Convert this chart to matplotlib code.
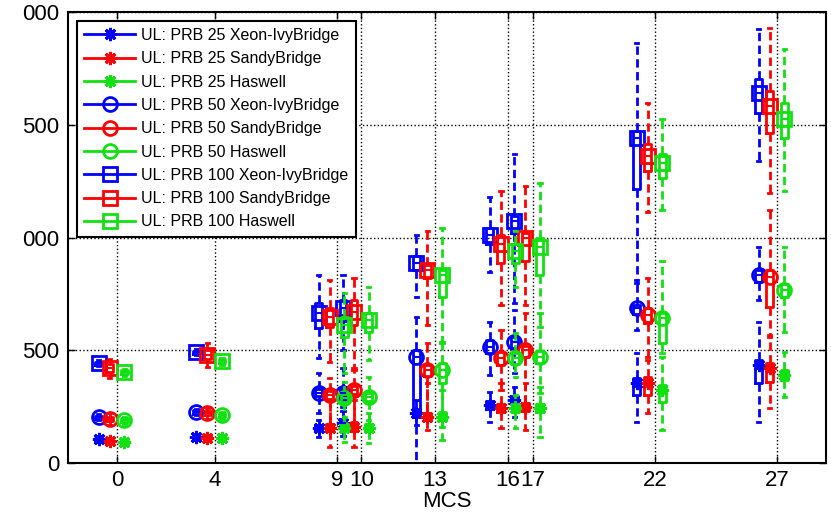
import matplotlib
matplotlib.use('Agg')
import matplotlib.pyplot as plt
from matplotlib.lines import Line2D
import numpy as np

plt.rcParams['font.family'] = ['Liberation Sans', 'DejaVu Sans']

# x positions (MCS index) and axis labels
mcs = [0, 4, 9, 10, 13, 16, 17, 22, 27]
mcs_labels = ["0", "4", "9", "10", "13", "16", "17", "22", "27"]
ytick_vals = [0, 500, 1000, 1500, 2000]
# leading digit is cut off in the source picture
ytick_labels = ["0", "500", "000", "500", "000"]

cpus = ["Xeon-IvyBridge", "SandyBridge", "Haswell"]
prbs = [25, 50, 100]

# each row: IvyBridge, SandyBridge, Haswell ; columns follow mcs
med_25 = [[106, 115, 155, 177, 221, 257, 279, 354, 434],
          [97, 113, 155, 159, 204, 243, 248, 354, 420],
          [93, 111, 155, 155, 204, 243, 243, 323, 389]]
q1_25 = [[100, 109, 145, 160, 205, 240, 262, 301, 354],
         [90, 106, 140, 140, 190, 225, 230, 301, 358],
         [86, 104, 140, 140, 190, 228, 228, 270, 367]]
q3_25 = [[112, 121, 170, 195, 240, 275, 295, 376, 456],
         [104, 120, 175, 180, 220, 262, 268, 381, 442],
         [100, 118, 170, 172, 225, 260, 262, 345, 411]]
lo_25 = [[95, 104, 115, 120, 170, 181, 204, 181, 181],
         [85, 100, 71, 71, 146, 155, 146, 221, 243],
         [82, 98, 93, 88, 102, 155, 115, 146, 292]]
hi_25 = [[117, 126, 190, 230, 280, 314, 336, 487, 624],
         [110, 126, 279, 279, 354, 354, 354, 456, 558],
         [104, 124, 204, 221, 323, 301, 336, 469, 491]]

med_50 = [[204, 226, 310, 310, 469, 513, 535, 686, 832],
          [195, 221, 301, 323, 411, 465, 500, 655, 823],
          [190, 212, 288, 292, 411, 465, 469, 642, 766]]
q1_50 = [[197, 219, 295, 295, 221, 487, 510, 660, 801],
         [185, 211, 285, 305, 384, 434, 470, 619, 690],
         [182, 204, 270, 275, 354, 440, 445, 531, 735]]
q3_50 = [[210, 233, 330, 330, 500, 544, 560, 700, 854],
         [205, 231, 320, 340, 433, 491, 520, 686, 854],
         [198, 220, 305, 310, 442, 490, 495, 664, 796]]
lo_50 = [[190, 212, 221, 250, 0, 389, 400, 588, 721],
         [170, 196, 159, 177, 190, 323, 235, 469, 566],
         [175, 197, 177, 190, 159, 381, 310, 487, 580]]
hi_50 = [[218, 240, 398, 420, 646, 624, 680, 810, 956],
         [220, 246, 376, 411, 531, 589, 664, 819, 1120],
         [205, 227, 358, 381, 535, 575, 664, 898, 956]]

med_100 = [[442, 491, 664, 686, 885, 1009, 1075, 1443, 1642],
           [420, 478, 646, 668, 854, 973, 1000, 1363, 1584],
           [403, 451, 611, 633, 832, 942, 956, 1332, 1527]]
q1_100 = [[435, 484, 597, 630, 854, 973, 1022, 1217, 1553],
          [405, 460, 602, 610, 819, 889, 898, 1296, 1465],
          [395, 443, 557, 580, 735, 889, 832, 1266, 1443]]
q3_100 = [[450, 498, 708, 722, 920, 1044, 1097, 1474, 1704],
          [440, 500, 686, 722, 876, 1009, 1022, 1416, 1650],
          [412, 460, 646, 664, 854, 973, 996, 1372, 1597]]
lo_100 = [[428, 477, 465, 500, 735, 845, 708, 800, 1341],
          [376, 425, 447, 420, 611, 699, 699, 1111, 1199],
          [388, 436, 398, 456, 531, 779, 602, 1120, 1208]]
hi_100 = [[456, 505, 832, 832, 1009, 1181, 1372, 1863, 1925],
          [460, 531, 810, 819, 1031, 1208, 1230, 1597, 1929],
          [418, 466, 752, 779, 1044, 1031, 1243, 1527, 1836]]

data = {
    25: (med_25, q1_25, q3_25, lo_25, hi_25),
    50: (med_50, q1_50, q3_50, lo_50, hi_50),
    100: (med_100, q1_100, q3_100, lo_100, hi_100),
}

colors = ["#0000ff", "#ff0000", "#11e011"]
offsets = [-0.75, -0.3, 0.3]
markers = {25: (8, 2, 0), 50: "o", 100: "s"}
msizes = {25: 9.5, 50: 10, 100: 9.5}
lw = 2.0

fig = plt.figure(figsize=(8.31, 5.2), dpi=100)
ax = fig.add_axes([0.0818, 0.1096, 0.9122, 0.8673])

handles = []
for prb in prbs:
    med, q1, q3, lo, hi = data[prb]
    for c, cpu in enumerate(cpus):
        col = colors[c]
        pos = np.array(mcs) + offsets[c]
        stats = [dict(med=med[c][k], q1=q1[c][k], q3=q3[c][k],
                      whislo=lo[c][k], whishi=hi[c][k], fliers=[])
                 for k in range(len(mcs))]
        ax.bxp(stats, positions=pos, widths=0.28, showfliers=False,
               manage_ticks=False,
               boxprops=dict(color=col, lw=lw),
               whiskerprops=dict(color=col, lw=lw, ls=(0, (3, 1.6))),
               capprops=dict(color=col, lw=lw),
               medianprops=dict(color=col, lw=1.5))
        ax.plot(pos, med[c], ls='none', marker=markers[prb], ms=msizes[prb],
                mec=col, mfc='none', mew=lw)
        handles.append(Line2D([0], [0], color=col, lw=lw, marker=markers[prb],
                              ms=msizes[prb], mec=col, mfc='none', mew=lw,
                              label=f"UL: PRB {prb} {cpu}"))

ax.set_xlim(-2, 29)
ax.set_ylim(0, 2000)
ax.set_xticks(mcs)
ax.set_xticklabels(mcs_labels)
ax.set_yticks(ytick_vals)
ax.set_yticklabels(ytick_labels)
ax.tick_params(direction='in', top=True, right=True, length=5, width=1,
               labelsize=16)
ax.tick_params(axis='x', pad=5)
ax.tick_params(axis='y', pad=6)
ax.grid(True, ls=':', color='k', lw=1)
ax.set_axisbelow(True)
for s in ax.spines.values():
    s.set_linewidth(1.5)
ax.set_xlabel("MCS", fontsize=16, labelpad=0)

leg = ax.legend(handles=handles, loc='upper left', fontsize=11.5,
                handlelength=3.2, handletextpad=0.38, labelspacing=0.52,
                borderpad=0.45, borderaxespad=0.55, fancybox=False,
                framealpha=1, edgecolor='k')
leg.get_frame().set_linewidth(1.5)

fig.savefig("out.png", dpi=100)
plt.close(fig)
